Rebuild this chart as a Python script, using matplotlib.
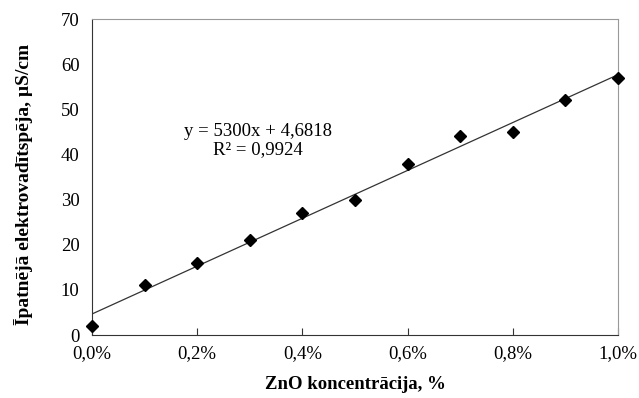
import numpy as np
import matplotlib.pyplot as plt
from matplotlib.ticker import FuncFormatter

plt.rcParams['font.family'] = ['Liberation Serif', 'DejaVu Serif']

conc = [0.000, 0.001, 0.002, 0.003, 0.004, 0.005, 0.006, 0.007, 0.008, 0.009, 0.010]
cond = [2, 11, 16, 21, 27, 30, 38, 44, 45, 52, 57]
slope = 5300
intercept = 4.6818
r2_text = '0,9924'

fig = plt.figure(figsize=(6.39, 3.98), dpi=100)
ax = fig.add_axes([0.144, 0.158, 0.823, 0.794])

xl = np.array([0, 0.01])
ax.plot(xl, slope * xl + intercept, color='#333333', lw=0.9, zorder=2)
ax.plot(conc, cond, linestyle='none', marker='D', color='black', markersize=6, zorder=3, clip_on=False)

ax.set_xlim(0, 0.01)
ax.set_ylim(0, 70)
ax.set_xticks(np.arange(0, 0.0101, 0.002))
ax.set_yticks(range(0, 71, 10))
ax.xaxis.set_major_formatter(FuncFormatter(lambda v, p: ('%.1f%%' % (v * 100)).replace('.', ',')))
ax.tick_params(axis='x', direction='in', length=5, labelsize=13.5, pad=7, color='#333333')
ax.tick_params(axis='y', length=0, labelsize=13.5, pad=9)

for s in ['top', 'right']:
    ax.spines[s].set_color('#999999')
for s in ['left', 'bottom']:
    ax.spines[s].set_color('#333333')

ax.set_xlabel('ZnO koncentrācija, %', fontsize=13.5, fontweight='bold', labelpad=10)
ax.set_ylabel('Īpatnējā elektrovadītspēja, µS/cm', fontsize=14, fontweight='bold')
ax.yaxis.set_label_coords(-0.112, 0.478)

ax.text(0.00316, 45.2, 'y = 5300x + 4,6818', fontsize=13.5, ha='center', va='center')
ax.text(0.00316, 41.2, 'R² = ' + r2_text, fontsize=13.5, ha='center', va='center')

fig.savefig('out.png', dpi=100)
